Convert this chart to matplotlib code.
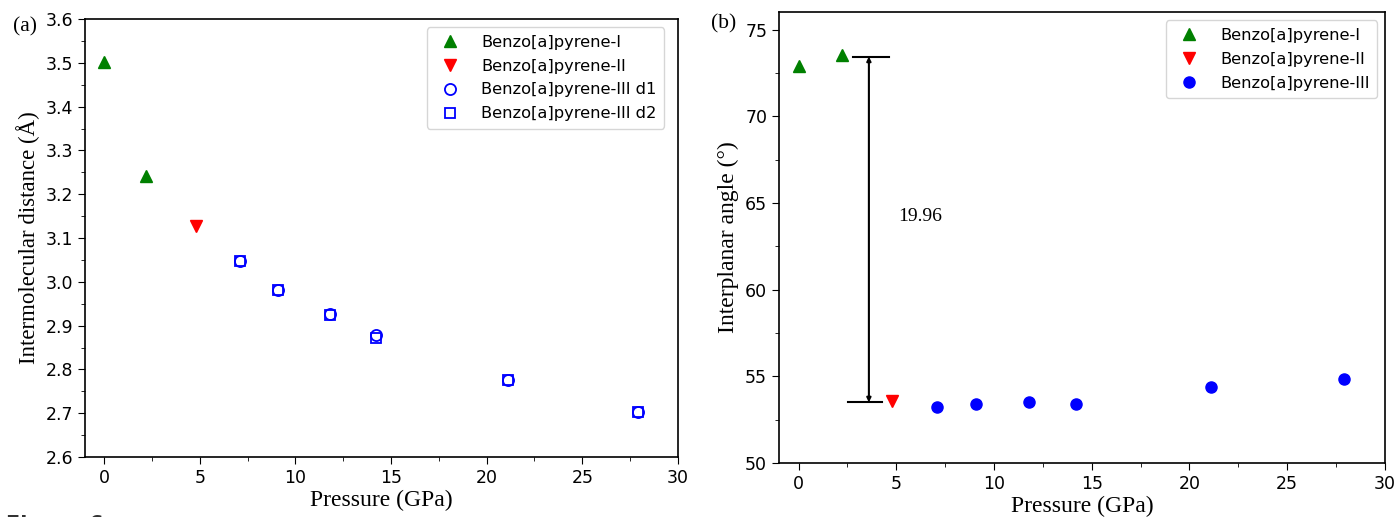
import matplotlib
matplotlib.use("Agg")
import matplotlib.pyplot as plt
from matplotlib.ticker import MultipleLocator

# panel (a) intermolecular distance
p_I = [0.0, 2.2]
d_I = [3.503, 3.242]
p_II = [4.8]
d_II = [3.128]
p_III = [7.1, 9.1, 11.8, 14.2, 21.1, 27.9]
d1_III = [3.048, 2.981, 2.926, 2.878, 2.776, 2.703]
d2_III = [3.048, 2.981, 2.925, 2.871, 2.775, 2.702]

# panel (b) interplanar angle
ang_I = [72.89, 73.54]
ang_II = [53.57]
ang_III = [53.24, 53.38, 53.53, 53.38, 54.40, 54.84]
gap_label = "19.96"

serif = "Liberation Serif"
plt.rcParams['font.family'] = ['DejaVu Sans']

fig = plt.figure(figsize=(13.97, 5.17), dpi=100)
ax1 = fig.add_axes([0.0608, 0.116, 0.4245, 0.847])
ax2 = fig.add_axes([0.5576, 0.1044, 0.4338, 0.872])

leg_kw = dict(fontsize=11.7, handletextpad=0.9, borderpad=0.45, labelspacing=0.55)

ms = 8
ax1.plot(p_I, d_I, '^', color='green', ms=ms, ls='none', label='Benzo[a]pyrene-I')
ax1.plot(p_II, d_II, 'v', color='red', ms=ms, ls='none', label='Benzo[a]pyrene-II')
ax1.plot(p_III, d1_III, 'o', mfc='none', mec='blue', mew=1.3, ms=ms, ls='none',
         label='Benzo[a]pyrene-III d1')
ax1.plot(p_III, d2_III, 's', mfc='none', mec='blue', mew=1.3, ms=ms - 0.5, ls='none',
         label='Benzo[a]pyrene-III d2')
ax1.set_xlim(-1, 30)
ax1.set_ylim(2.6, 3.6)
ax1.yaxis.set_major_locator(MultipleLocator(0.1))
ax1.yaxis.set_minor_locator(MultipleLocator(0.05))
ax1.set_ylabel('Intermolecular distance (Å)', family=serif, fontsize=16.5)
ax1.legend(loc='upper right', bbox_to_anchor=(0.99, 1.0), **leg_kw)
fig.text(0.009, 0.94, '(a)', family=serif, fontsize=15.5)

ax2.plot(p_I, ang_I, '^', color='green', ms=ms, ls='none', label='Benzo[a]pyrene-I')
ax2.plot(p_II, ang_II, 'v', color='red', ms=ms, ls='none', label='Benzo[a]pyrene-II')
ax2.plot(p_III, ang_III, 'o', color='blue', ms=ms, ls='none', label='Benzo[a]pyrene-III')
ax2.set_xlim(-1, 30)
ax2.set_ylim(50, 76)
ax2.yaxis.set_major_locator(MultipleLocator(5))
ax2.yaxis.set_minor_locator(MultipleLocator(2.5))
ax2.set_ylabel('Interplanar angle (°)', family=serif, fontsize=17)
ax2.legend(loc='upper right', **leg_kw)
fig.text(0.509, 0.945, '(b)', family=serif, fontsize=15.5)

# gap annotation between phase I and II
ax2.annotate('', xy=(3.6, ang_II[0] - 0.07), xytext=(3.6, 73.44),
             arrowprops=dict(arrowstyle='<|-|>', color='black', lw=1.5,
                             mutation_scale=6, shrinkA=0, shrinkB=0))
ax2.plot([2.8, 4.65], [73.44, 73.44], color='black', lw=1.5)
ax2.plot([2.55, 4.25], [53.5, 53.5], color='black', lw=1.5)
ax2.text(5.1, 64.2, gap_label, family=serif, fontsize=14, va='center')

for ax in (ax1, ax2):
    ax.xaxis.set_major_locator(MultipleLocator(5))
    ax.xaxis.set_minor_locator(MultipleLocator(2.5))
    ax.set_xlabel('Pressure (GPa)', family=serif, fontsize=17, labelpad=2)
    ax.tick_params(which='major', length=5, labelsize=12.5, direction='out')
    ax.tick_params(which='minor', length=3)
    for s in ax.spines.values():
        s.set_linewidth(1.2)

# caption cut off at the bottom edge, as in the source image
fig.text(0.004, 0.004, 'Figure 6', fontsize=15, fontweight='bold', va='top',
         color='#333333')

fig.savefig('out.png', dpi=100)
